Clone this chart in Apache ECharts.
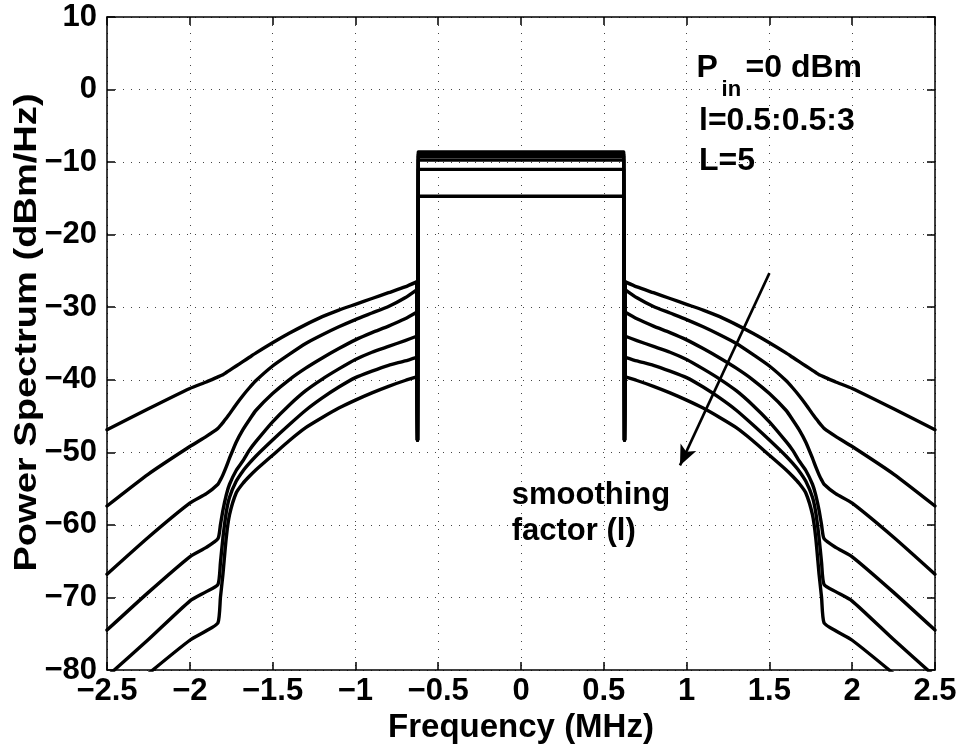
<!DOCTYPE html>
<html>
<head>
<meta charset="utf-8">
<script src="https://cdn.jsdelivr.net/npm/echarts@6/dist/echarts.min.js"></script>
<style>
html,body{margin:0;padding:0;background:#fff;}
#chart{width:966px;height:755px;}
</style>
</head>
<body>
<div id="chart"></div>
<script>
// ---- data ----
const smoothingFactors = [0.5, 1.0, 1.5, 2.0, 2.5, 3.0];

// frequency grid of the lower sidelobe (MHz)
const freqLeft = [-2.5, -2.25, -2.0, -1.9, -1.83, -1.815, -1.8, -1.78, -1.76, -1.72, -1.68, -1.64, -1.6, -1.5, -1.4, -1.3, -1.2, -1.1, -1.0, -0.9, -0.8, -0.7, -0.63];
// frequency grid of the upper sidelobe (MHz)
const freqRight = [0.63, 0.7, 0.8, 0.9, 1.0, 1.1, 1.2, 1.3, 1.4, 1.5, 1.6, 1.64, 1.68, 1.72, 1.76, 1.78, 1.8, 1.815, 1.83, 1.9, 2.0, 2.25, 2.5];

// lower sidelobe levels (dBm/Hz)
const lowL05 = [-46.9, -44.0, -41.2, -40.3, -39.6, -39.45, -39.3, -39.0, -38.7, -38.1, -37.5, -36.9, -36.3, -34.9, -33.6, -32.4, -31.3, -30.4, -29.6, -28.8, -28.0, -27.2, -26.5];
const lowL10 = [-57.4, -53.0, -49.2, -47.8, -46.7, -46.3, -45.9, -45.3, -44.7, -43.4, -42.2, -41.1, -40.1, -38.1, -36.5, -35.0, -33.8, -32.7, -31.7, -30.8, -29.9, -28.7, -27.6];
const lowL15 = [-66.8, -61.7, -57.0, -55.7, -54.4, -53.8, -53.1, -52.0, -50.8, -48.6, -46.9, -45.5, -44.2, -41.9, -40.0, -38.4, -37.0, -35.7, -34.5, -33.5, -32.6, -31.6, -30.7];
const lowL20 = [-74.5, -69.3, -64.4, -63.1, -61.9, -60.0, -58.0, -55.9, -54.4, -52.5, -51.2, -49.7, -48.5, -45.8, -43.5, -41.5, -39.9, -38.5, -37.2, -36.2, -35.4, -34.6, -34.0];
const lowL25 = [-80.9, -75.8, -70.5, -69.2, -68.2, -65.2, -61.8, -58.3, -56.2, -54.0, -52.6, -51.5, -50.5, -48.3, -46.2, -44.2, -42.5, -41.0, -39.7, -38.8, -38.0, -37.4, -36.9];
const lowL30 = [null, -80.5, -75.9, -74.6, -73.5, -70.0, -66.8, -61.8, -58.6, -55.6, -54.3, -53.3, -52.4, -50.4, -48.4, -46.6, -45.2, -43.9, -42.8, -41.8, -40.9, -40.1, -39.6];

// upper sidelobe levels (dBm/Hz)
const upL05 = [-26.5, -27.2, -28.0, -28.8, -29.6, -30.4, -31.3, -32.4, -33.6, -34.9, -36.3, -36.9, -37.5, -38.1, -38.7, -39.0, -39.3, -39.45, -39.6, -40.3, -41.2, -44.0, -46.9];
const upL10 = [-27.6, -28.7, -29.9, -30.8, -31.7, -32.7, -33.8, -35.0, -36.5, -38.1, -40.1, -41.1, -42.2, -43.4, -44.7, -45.3, -45.9, -46.3, -46.7, -47.8, -49.2, -53.0, -57.4];
const upL15 = [-30.7, -31.6, -32.6, -33.5, -34.5, -35.7, -37.0, -38.4, -40.0, -41.9, -44.2, -45.5, -46.9, -48.6, -50.8, -52.0, -53.1, -53.8, -54.4, -55.7, -57.0, -61.7, -66.8];
const upL20 = [-34.0, -34.6, -35.4, -36.2, -37.2, -38.5, -39.9, -41.5, -43.5, -45.8, -48.5, -49.7, -51.2, -52.5, -54.4, -55.9, -58.0, -60.0, -61.9, -63.1, -64.4, -69.3, -74.5];
const upL25 = [-36.9, -37.4, -38.0, -38.8, -39.7, -41.0, -42.5, -44.2, -46.2, -48.3, -50.5, -51.5, -52.6, -54.0, -56.2, -58.3, -61.8, -65.2, -68.2, -69.2, -70.5, -75.8, -80.9];
const upL30 = [-39.6, -40.1, -40.9, -41.8, -42.8, -43.9, -45.2, -46.6, -48.4, -50.4, -52.4, -53.3, -54.3, -55.6, -58.6, -61.8, -66.8, -70.0, -73.5, -74.6, -75.9, -80.5, null];

// in-band flat levels (dBm/Hz), one per smoothing factor
const inBandLevel = [-14.7, -11.0, -9.7, -9.2, -8.9, -8.6];
// band-edge frequencies (MHz): floor, band start, band end, floor
const edgeFreqs = [-0.625, -0.62, 0.62, 0.625];
const edgeFloor = -48.3;

// axis ticks
const xTicks = [-2.5, -2, -1.5, -1, -0.5, 0, 0.5, 1, 1.5, 2, 2.5];
const yTicks = [-80, -70, -60, -50, -40, -30, -20, -10, 0, 10];

// arrow annotation (MHz, dBm/Hz)
const arrowStart = [1.50, -25.3];
const arrowEnd = [0.96, -51.8];

// text annotation anchors (MHz, dBm/Hz)
const noteParams = [1.06, 2.9];
const noteL = [1.075, -4.3];
const noteBigL = [1.075, -9.9];
const noteSmooth1 = [-0.056, -55.9];
const noteSmooth2 = [-0.056, -60.9];

// ---- build ----
const lowSets = [lowL05, lowL10, lowL15, lowL20, lowL25, lowL30];
const upSets = [upL05, upL10, upL15, upL20, upL25, upL30];
const FONT = "'Liberation Sans', Arial, Helvetica, sans-serif";
const LW = 3.4;

const minusFmt = v => String(v).replace('-', '\u2212');

const series = [];
smoothingFactors.forEach((l, k) => {
  const lo = freqLeft.map((f, i) => [f, lowSets[k][i]]);
  const hi = freqRight.map((f, i) => [f, upSets[k][i]]);
  const mid = [
    [freqLeft[freqLeft.length - 1], lowSets[k][lowSets[k].length - 1]],
    [edgeFreqs[0], edgeFloor],
    [edgeFreqs[1], inBandLevel[k]],
    [edgeFreqs[2], inBandLevel[k]],
    [edgeFreqs[3], edgeFloor],
    [freqRight[0], upSets[k][0]]
  ];
  const base = {
    type: 'line', showSymbol: false, symbol: 'none', clip: true, silent: true,
    lineStyle: { color: '#000', width: LW, join: 'round', cap: 'round' }, z: 3
  };
  series.push(Object.assign({ name: 'l=' + l + ' low', data: lo, smooth: 0.2 }, base));
  series.push(Object.assign({ name: 'l=' + l + ' band', data: mid, smooth: false }, base));
  series.push(Object.assign({ name: 'l=' + l + ' up', data: hi, smooth: 0.2 }, base));
});

series.push({
  type: 'line',
  data: [],
  silent: true,
  markLine: {
    silent: true,
    symbol: ['none', 'arrow'],
    symbolSize: [13, 20],
    label: { show: false },
    lineStyle: { color: '#000', width: 2.6, type: 'solid' },
    data: [[{ coord: arrowStart }, { coord: arrowEnd }]],
    animation: false
  }
});

const gridLine = { show: true, lineStyle: { color: '#444', width: 1, type: [1, 7] } };
const axLine = { show: true, onZero: false, lineStyle: { color: '#000', width: 1.5 } };
const tick = { show: true, inside: true, length: 8, lineStyle: { color: '#000', width: 1.5 } };
const tickLabel = { fontFamily: FONT, fontWeight: 'bold', fontSize: 31, color: '#000' };

const chart = echarts.init(document.getElementById('chart'), null, { renderer: 'canvas' });
chart.setOption({
  animation: false,
  backgroundColor: '#fff',
  grid: { left: 107, right: 31, top: 17, bottom: 85 },
  xAxis: [
    {
      type: 'value', position: 'bottom',
      min: xTicks[0], max: xTicks[xTicks.length - 1], interval: 0.5,
      axisLine: axLine, axisTick: tick, splitLine: gridLine,
      axisLabel: Object.assign({ margin: 6, formatter: minusFmt }, tickLabel),
      name: 'Frequency (MHz)', nameLocation: 'middle', nameGap: 36,
      nameTextStyle: { fontFamily: FONT, fontWeight: 'bold', fontSize: 33, color: '#000' }
    },
    {
      type: 'value', position: 'top',
      min: xTicks[0], max: xTicks[xTicks.length - 1], interval: 0.5,
      axisLine: axLine, axisTick: tick, splitLine: { show: false },
      axisLabel: { show: false }
    }
  ],
  yAxis: [
    {
      type: 'value', position: 'left',
      min: yTicks[0], max: yTicks[yTicks.length - 1], interval: 10,
      axisLine: axLine, axisTick: tick, splitLine: gridLine,
      axisLabel: Object.assign({ margin: 10, formatter: minusFmt }, tickLabel)
    },
    {
      type: 'value', position: 'right',
      min: yTicks[0], max: yTicks[yTicks.length - 1], interval: 10,
      axisLine: axLine, axisTick: tick, splitLine: { show: false },
      axisLabel: { show: false }
    }
  ],
  series: series
});

function px(p) { return chart.convertToPixel({ xAxisIndex: 0, yAxisIndex: 0 }, p); }
function txt(p, s, size, dx, dy) {
  return {
    type: 'text', x: p[0] + (dx || 0), y: p[1] + (dy || 0), z: 10,
    style: { text: s, fill: '#000', font: 'bold ' + size + 'px ' + FONT, textAlign: 'left', textVerticalAlign: 'middle' }
  };
}
const a = px(noteParams), b = px(noteL), c = px(noteBigL), d1 = px(noteSmooth1), d2 = px(noteSmooth2);
// y-axis title, stretched along its length like the reference
const yMid = px([0, (yTicks[0] + yTicks[yTicks.length - 1]) / 2]);
chart.setOption({
  graphic: [
    {
      type: 'text', x: 27, y: yMid[1] - 11, rotation: Math.PI / 2, scaleX: 1.19, scaleY: 1, z: 10,
      style: { text: 'Power Spectrum (dBm/Hz)', fill: '#000', font: 'bold 32px ' + FONT, textAlign: 'center', textVerticalAlign: 'middle' }
    },
    txt(a, 'P', 32, 0, 0),
    txt(a, 'in', 22, 25, 21),
    txt(a, '=0 dBm', 32, 49, 0),
    txt(b, 'l=0.5:0.5:3', 32, 0, 0),
    txt(c, 'L=5', 32, 0, 0),
    txt(d1, 'smoothing', 31, 0, 0),
    txt(d2, 'factor (l)', 31, 0, 0)
  ]
});
</script>
</body>
</html>
